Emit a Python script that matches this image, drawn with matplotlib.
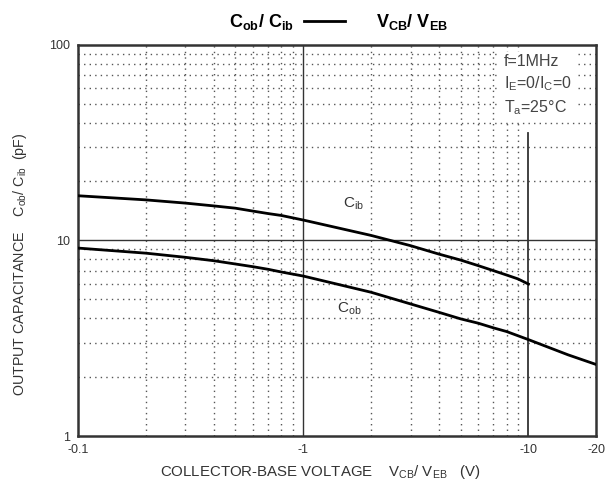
import numpy as np
import matplotlib.pyplot as plt
from matplotlib.ticker import FixedLocator, NullFormatter

plt.rcParams['font.family'] = ['Liberation Sans', 'DejaVu Sans']
plt.rcParams['mathtext.fontset'] = 'custom'
plt.rcParams['mathtext.rm'] = 'Liberation Sans'

# values (|V| in volts, capacitance in pF)
v_cib = [0.1, 0.2, 0.3, 0.4, 0.5, 0.6, 0.7, 0.8, 1, 2, 3, 4, 5, 6, 7, 8, 9, 10]
c_ib = [16.9, 16.1, 15.5, 15.0, 14.6, 14.1, 13.7, 13.4, 12.7,
        10.6, 9.39, 8.51, 7.93, 7.42, 7.0, 6.65, 6.35, 5.98]
v_cob = [0.1, 0.2, 0.3, 0.4, 0.5, 0.6, 0.7, 0.8, 1, 2, 3, 4, 5, 6, 7, 8, 10, 15, 20]
c_ob = [9.13, 8.6, 8.19, 7.87, 7.57, 7.33, 7.11, 6.89, 6.57,
        5.43, 4.73, 4.29, 3.97, 3.77, 3.57, 3.42, 3.11, 2.6, 2.32]

x_ticks = [0.1, 1, 10, 20]
x_labels = ['-0.1', '-1', '-10', '-20']
y_ticks = [1, 10, 100]
y_labels = ['1', '10', '100']

fig = plt.figure(figsize=(6.11, 4.91), dpi=100)
ax = fig.add_axes([0.1277, 0.112, 0.848, 0.797])
ax.set_xscale('log')
ax.set_yscale('log')
ax.set_xlim(0.1, 20)
ax.set_ylim(1, 100)

# grid: solid at decades, dotted between
xminor = [m * d for d in (0.1, 1) for m in range(2, 10)]
yminor = [m * d for d in (1, 10) for m in range(2, 10)]
ax.xaxis.set_minor_locator(FixedLocator(xminor))
ax.yaxis.set_minor_locator(FixedLocator(yminor))
ax.xaxis.set_minor_formatter(NullFormatter())
ax.yaxis.set_minor_formatter(NullFormatter())
ax.grid(which='minor', color='#555555', linestyle=(0, (1, 3)), linewidth=1.0)
ax.axhline(10, color='#333333', lw=1.0)
ax.axvline(1, color='#333333', lw=1.0)
ax.axvline(10, ymax=0.775, color='#333333', lw=1.3, zorder=4)

ax.plot(v_cib, c_ib, color='black', lw=2.0, zorder=5)
ax.plot(v_cob, c_ob, color='black', lw=2.0, zorder=5)

ax.set_xticks(x_ticks)
ax.set_xticklabels(x_labels)
ax.set_yticks(y_ticks)
ax.set_yticklabels(y_labels)
ax.tick_params(which='both', length=0, labelsize=9, colors='#333333', pad=6)
for s in ax.spines.values():
    s.set_linewidth(1.8)
    s.set_color('#333333')

ax.text(1.5, 14.8, r'C$_{\mathregular{ib}}$', fontsize=11, color='#333333')
ax.text(1.42, 4.3, r'C$_{\mathregular{ob}}$', fontsize=11, color='#333333')

ax.text(0.822, 0.975,
        'f=1MHz\n' + r'I$_{\mathregular{E}}$=0/I$_{\mathregular{C}}$=0' + '\n' + r'T$_{\mathregular{a}}$=25$\degree$C',
        transform=ax.transAxes, va='top', ha='left', fontsize=11.5, color='#444444',
        linespacing=1.35, zorder=6,
        bbox=dict(facecolor='white', edgecolor='none', pad=3))

fig.text(0.428, 0.955, r'C$_{\mathregular{ob}}$/ C$_{\mathregular{ib}}$', ha='center', va='center',
         fontsize=13, fontweight='bold')
fig.add_artist(plt.Line2D([0.497, 0.565], [0.958, 0.958], color='black', lw=2))
fig.text(0.674, 0.955, r'V$_{\mathregular{CB}}$/ V$_{\mathregular{EB}}$', ha='center', va='center',
         fontsize=13, fontweight='bold')

ax.set_xlabel(r'COLLECTOR-BASE VOLTAGE    V$_{\mathregular{CB}}$/ V$_{\mathregular{EB}}$   (V)',
              fontsize=10.8, color='#333333')
ax.xaxis.set_label_coords(0.467, -0.068)
ax.set_ylabel(r'OUTPUT CAPACITANCE    C$_{\mathregular{ob}}$/ C$_{\mathregular{ib}}$  (pF)',
              fontsize=10.3, color='#333333')
ax.yaxis.set_label_coords(-0.095, 0.44)

fig.savefig('out.png', dpi=100)
